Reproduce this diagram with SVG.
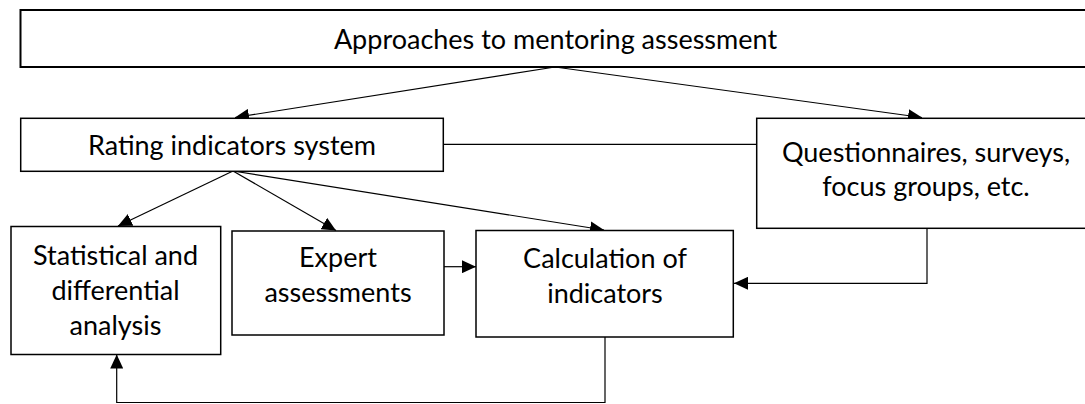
<svg xmlns="http://www.w3.org/2000/svg" width="1085" height="404" viewBox="0 0 1085 404">
<defs>
<style>
.box{fill:#fff;stroke:#000;stroke-width:1.5}
.lbl{font-family:Lato,"Liberation Sans",sans-serif;font-size:27px;fill:#000;text-anchor:middle}
.con{fill:none;stroke:#000;stroke-width:1.2}
</style>
<marker id="ah" viewBox="0 0 14 13" refX="14" refY="6.5" markerWidth="14" markerHeight="13" markerUnits="userSpaceOnUse" orient="auto">
<path d="M0,0 L14,6.5 L0,13 z" fill="#000"/>
</marker>
</defs>
<rect width="1085" height="404" fill="#fff"/>
<g id="connectors">
<path class="con" d="M555,67 L235,117.5" marker-end="url(#ah)"/>
<path class="con" d="M555,67 L922,117.5" marker-end="url(#ah)"/>
<path class="con" d="M443,144.3 L757,144.3"/>
<path class="con" d="M233,171 L118,226" marker-end="url(#ah)"/>
<path class="con" d="M233,171 L336,230.5" marker-end="url(#ah)"/>
<path class="con" d="M233,171 L604,230" marker-end="url(#ah)"/>
<path class="con" d="M444,266.7 L476,266.7" marker-end="url(#ah)"/>
<path class="con" d="M927,228 L927,283.3 L734,283.3" marker-end="url(#ah)"/>
<path class="con" d="M605,337 L605,402.5 L116.7,402.5 L116.7,354.5" marker-end="url(#ah)"/>
</g>
<g id="approaches">
<rect class="box" x="20.5" y="10" width="1075" height="57" style="stroke-width:2"/>
<text class="lbl" x="555.5" y="48.5">Approaches to mentoring assessment</text>
</g>
<g id="rating">
<rect class="box" x="20.7" y="118.3" width="422.6" height="53"/>
<text class="lbl" x="232" y="154.5">Rating indicators system</text>
</g>
<g id="questionnaires">
<rect class="box" x="756.7" y="118.3" width="340" height="110"/>
<text class="lbl" x="926" y="161.5">Questionnaires, surveys,</text>
<text class="lbl" x="926" y="195.5">focus groups, etc.</text>
</g>
<g id="statistical">
<rect class="box" x="11" y="226.5" width="209.7" height="128"/>
<text class="lbl" x="115.5" y="264.5">Statistical and</text>
<text class="lbl" x="115.5" y="299.5">differential</text>
<text class="lbl" x="115.5" y="334.5">analysis</text>
</g>
<g id="expert">
<rect class="box" x="232" y="231" width="212" height="104"/>
<text class="lbl" x="338" y="266.5">Expert</text>
<text class="lbl" x="338" y="301.5">assessments</text>
</g>
<g id="calculation">
<rect class="box" x="476" y="230.5" width="257.3" height="106.5"/>
<text class="lbl" x="605" y="268">Calculation of</text>
<text class="lbl" x="605" y="303">indicators</text>
</g>
</svg>
